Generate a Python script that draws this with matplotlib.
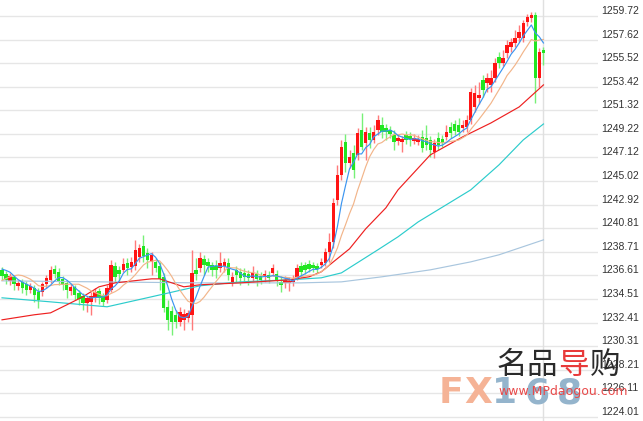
import numpy as np
import pandas as pd
import matplotlib
matplotlib.use("Agg")
import matplotlib.pyplot as plt

# candle data (oldest -> newest)
opens = [1237.11, 1236.75, 1236.13, 1236.49, 1235.69, 1236.04, 1235.86, 1235.33, 1235.51, 1235.15,
         1235.15, 1235.86, 1236.22, 1237.20, 1236.93, 1236.31, 1235.95, 1235.24, 1235.60, 1235.06,
         1234.80, 1234.17, 1234.26, 1234.62, 1235.24, 1234.80, 1234.44, 1235.33, 1237.47, 1237.11,
         1237.11, 1237.73, 1237.38, 1237.47, 1238.27, 1239.25, 1238.62, 1237.82, 1237.82, 1237.47,
         1236.49, 1233.82, 1233.46, 1233.11, 1232.48, 1232.66, 1232.84, 1233.11, 1237.11, 1237.29,
         1238.09, 1237.82, 1237.56, 1237.47, 1237.29, 1237.47, 1237.73, 1236.04, 1237.11, 1236.93,
         1236.84, 1236.75, 1236.40, 1236.75, 1236.58, 1236.58, 1236.67, 1236.84, 1236.75, 1236.04,
         1235.95, 1235.95, 1236.04, 1236.49, 1237.47, 1237.56, 1237.64, 1237.56, 1237.47, 1237.56,
         1237.73, 1238.71, 1239.60, 1243.34, 1245.57, 1248.50, 1246.63, 1247.52, 1247.35, 1249.57,
         1248.41, 1249.30, 1248.68, 1249.57, 1250.02, 1249.75, 1249.57, 1249.13, 1248.59, 1248.50,
         1249.13, 1249.04, 1248.59, 1248.50, 1248.95, 1248.86, 1248.68, 1247.61, 1248.86, 1248.77,
         1248.95, 1249.84, 1250.10, 1250.02, 1249.75, 1249.84, 1250.46, 1251.62, 1252.42, 1254.02,
         1253.75, 1253.58, 1254.20, 1256.07, 1255.53, 1256.42, 1256.96, 1257.31, 1257.76, 1257.76,
         1259.18, 1259.54, 1259.81, 1254.20, 1256.69]
closes = [1236.58, 1236.22, 1236.58, 1235.86, 1235.95, 1235.51, 1235.33, 1235.69, 1234.89, 1234.44,
          1235.86, 1236.40, 1237.11, 1236.75, 1236.04, 1235.78, 1235.33, 1235.60, 1234.89, 1234.53,
          1234.17, 1234.62, 1234.80, 1235.15, 1234.62, 1234.26, 1235.51, 1237.56, 1236.49, 1236.75,
          1237.64, 1237.29, 1237.82, 1238.89, 1239.07, 1238.36, 1238.00, 1238.45, 1237.29, 1236.31,
          1233.73, 1232.66, 1232.48, 1232.48, 1233.37, 1233.19, 1233.28, 1236.84, 1236.75, 1238.18,
          1237.56, 1237.47, 1237.11, 1237.11, 1237.73, 1237.82, 1236.67, 1236.49, 1236.67, 1236.40,
          1236.49, 1236.40, 1236.93, 1236.31, 1236.22, 1236.75, 1236.40, 1237.29, 1236.13, 1235.78,
          1236.22, 1236.13, 1236.31, 1237.29, 1236.93, 1237.11, 1237.20, 1237.29, 1237.20, 1237.82,
          1238.71, 1239.60, 1243.07, 1245.57, 1248.06, 1246.63, 1247.17, 1246.01, 1249.30, 1248.06,
          1249.39, 1248.68, 1249.39, 1250.46, 1249.39, 1249.39, 1249.21, 1248.50, 1248.86, 1248.77,
          1248.68, 1248.77, 1248.86, 1248.77, 1247.97, 1248.24, 1247.79, 1248.41, 1248.24, 1248.41,
          1249.39, 1249.30, 1249.48, 1249.39, 1250.02, 1250.46, 1252.95, 1252.86, 1252.69, 1253.13,
          1254.20, 1254.20, 1255.53, 1255.53, 1255.98, 1257.14, 1257.40, 1257.76, 1258.29, 1259.09,
          1259.63, 1259.81, 1254.20, 1256.51, 1256.42]
highs = [1237.38, 1237.02, 1236.84, 1236.67, 1236.22, 1236.31, 1236.13, 1235.95, 1235.78, 1235.51,
         1236.04, 1236.67, 1237.47, 1237.56, 1237.29, 1236.58, 1236.22, 1235.86, 1235.78, 1235.33,
         1235.06, 1234.80, 1235.15, 1235.51, 1235.51, 1235.06, 1235.78, 1238.00, 1237.82, 1237.47,
         1238.18, 1238.18, 1238.27, 1239.78, 1239.42, 1240.23, 1239.07, 1238.71, 1238.18, 1237.82,
         1236.84, 1234.44, 1233.91, 1233.55, 1233.82, 1233.64, 1233.55, 1238.89, 1238.18, 1238.71,
         1238.45, 1238.18, 1237.82, 1238.00, 1238.71, 1238.18, 1238.18, 1236.93, 1237.47, 1237.29,
         1237.29, 1237.11, 1237.47, 1237.11, 1236.93, 1237.11, 1237.02, 1237.64, 1237.11, 1236.58,
         1236.58, 1236.49, 1236.67, 1237.64, 1237.82, 1237.82, 1238.00, 1237.82, 1237.73, 1238.18,
         1239.07, 1240.40, 1243.52, 1246.46, 1248.68, 1249.21, 1247.79, 1248.24, 1249.75, 1251.08,
         1249.84, 1249.84, 1250.02, 1250.91, 1250.73, 1250.10, 1249.93, 1249.57, 1249.21, 1249.04,
         1249.48, 1249.39, 1249.21, 1249.13, 1249.57, 1250.02, 1249.04, 1248.77, 1249.39, 1249.13,
         1250.02, 1250.28, 1250.46, 1250.64, 1250.46, 1250.91, 1253.31, 1253.58, 1253.84, 1254.47,
         1254.64, 1254.91, 1255.98, 1256.51, 1256.69, 1257.58, 1257.76, 1258.47, 1258.92, 1259.36,
         1259.89, 1260.07, 1260.07, 1256.87, 1256.96]
lows = [1236.22, 1235.86, 1235.78, 1235.33, 1235.33, 1235.06, 1234.89, 1235.06, 1234.26, 1233.73,
        1234.80, 1235.51, 1235.95, 1236.40, 1235.78, 1235.33, 1234.62, 1234.89, 1234.44, 1233.99,
        1233.55, 1233.37, 1233.11, 1234.26, 1234.08, 1233.91, 1234.17, 1235.15, 1236.04, 1236.04,
        1236.93, 1236.67, 1236.93, 1237.11, 1237.82, 1237.82, 1237.29, 1236.67, 1236.93, 1235.33,
        1233.37, 1231.77, 1231.33, 1231.95, 1232.13, 1231.77, 1232.48, 1231.77, 1236.22, 1236.93,
        1236.67, 1236.93, 1236.58, 1236.40, 1236.93, 1236.93, 1236.22, 1235.69, 1236.04, 1235.78,
        1236.04, 1235.78, 1236.04, 1235.69, 1235.86, 1236.04, 1235.95, 1236.58, 1235.69, 1235.15,
        1235.51, 1235.24, 1235.69, 1236.22, 1236.49, 1236.75, 1236.93, 1236.93, 1236.84, 1237.29,
        1237.47, 1237.82, 1239.07, 1242.90, 1245.12, 1245.83, 1246.19, 1245.30, 1246.90, 1247.79,
        1246.90, 1247.97, 1248.41, 1249.13, 1248.86, 1248.68, 1248.86, 1247.79, 1248.24, 1247.61,
        1248.32, 1248.15, 1248.32, 1248.24, 1247.61, 1247.79, 1247.17, 1247.08, 1247.79, 1248.06,
        1248.68, 1248.86, 1249.13, 1249.04, 1249.39, 1249.39, 1250.10, 1251.17, 1251.88, 1252.51,
        1252.95, 1252.95, 1253.84, 1255.09, 1255.27, 1255.98, 1256.51, 1256.96, 1257.40, 1257.40,
        1258.83, 1259.18, 1251.97, 1253.40, 1255.36]

# closes before the visible window (needed for the short moving averages)
hist_closes = [1234.6, 1234.9, 1235.0, 1235.3, 1236.0, 1236.8, 1237.4, 1237.6, 1237.5]

# long moving averages (candle index, value)
ma_red_idx = [0, 8, 12, 16, 20, 24, 28, 37, 39, 45, 49, 59, 71, 76, 79, 82, 86, 90, 95, 98, 106, 114, 121, 128, 134]
ma_red_val = [1232.66, 1233.11, 1233.28, 1233.99, 1234.71, 1235.60, 1235.95, 1236.31, 1236.31, 1235.60,
              1235.78, 1235.95, 1236.22, 1236.49, 1236.93, 1237.82, 1238.98, 1240.76, 1242.63, 1244.23,
              1247.35, 1248.95, 1250.19, 1251.62, 1253.58]
ma_cyan_idx = [0, 12, 26, 37, 49, 59, 71, 79, 84, 93, 98, 103, 116, 123, 129, 134]
ma_cyan_val = [1234.62, 1234.26, 1233.82, 1234.71, 1235.69, 1236.04, 1236.22, 1236.40, 1236.84, 1238.89,
               1240.05, 1241.38, 1244.23, 1246.46, 1248.68, 1250.10]
ma_lb_idx = [0, 24, 49, 74, 84, 94, 106, 116, 123, 134]
ma_lb_val = [1236.13, 1236.04, 1235.95, 1235.95, 1236.04, 1236.49, 1237.11, 1237.82, 1238.45, 1239.78]

tick_labels = ["1224.01", "1226.11", "1228.21", "1230.31", "1232.41", "1234.51", "1236.61", "1238.71",
               "1240.81", "1242.92", "1245.02", "1247.12", "1249.22", "1251.32", "1253.42", "1255.52",
               "1257.62", "1259.72"]

o = np.array(opens)
c = np.array(closes)
h = np.array(highs)
l = np.array(lows)
n = len(o)
x = np.arange(n)

s = pd.Series(hist_closes + closes)
ma5 = s.rolling(5).mean().values[len(hist_closes):]
ma10 = s.rolling(10).mean().values[len(hist_closes):]

fig = plt.figure(figsize=(6.43, 4.21), dpi=100)
ax = fig.add_axes([0, 0, 598 / 643, 1])
ax.set_xlim(-0.5, 147.5)
ax.set_ylim(1223.65, 1261.14)

ax.set_yticks(np.linspace(1224.01, 1259.72, len(tick_labels)))
ax.set_yticklabels(tick_labels)
ax.yaxis.tick_right()
ax.tick_params(axis="y", length=0, pad=2.2, labelsize=7.5, labelcolor="#333333")
for lab in ax.get_yticklabels():
    lab.set_va("bottom")
    lab.set_fontfamily("Liberation Sans")
ax.set_xticks([])
for sp in ax.spines.values():
    sp.set_visible(False)
ax.grid(axis="y", color="#e6e6e6", lw=1)
ax.set_axisbelow(True)
ax.axvline(n - 1, color="#e0e0e0", lw=1, zorder=1)

up = c >= o
body_col = np.where(up, "#ff1414", "#22e622")
wick_col = np.where(up, "#ff7a7a", "#77f077")
ax.vlines(x, l, h, colors=wick_col, lw=1, zorder=2)
ax.bar(x, np.abs(c - o), bottom=np.minimum(o, c), width=0.85, color=body_col, lw=0, zorder=3)

ax.plot(ma_lb_idx, ma_lb_val, color="#a9c6de", lw=0.85, zorder=4)
ax.plot(ma_cyan_idx, ma_cyan_val, color="#2ccccc", lw=0.85, zorder=4)
ax.plot(ma_red_idx, ma_red_val, color="#ee2020", lw=0.85, zorder=4)
ax.plot(x, ma10, color="#f2b58a", lw=0.85, zorder=5)
ax.plot(x, ma5, color="#3b95f0", lw=0.85, zorder=6)

# watermark
W, H = 643, 421
for ch, px, col in zip("FX168", [451, 478, 505, 537, 569], ["#f5b396"] * 2 + ["#94b4cc"] * 3):
    fig.text(px / W, 1 - 393 / H, ch, color=col, fontsize=26, fontweight="bold",
             family="DejaVu Sans", ha="center", va="center")
for ch, px, col in zip("名品导购", [512, 542, 573, 605], ["#2a2a2a", "#2a2a2a", "#e83a3a", "#2a2a2a"]):
    fig.text(px / W, 1 - 365 / H, ch, color=col, fontsize=22, family="Noto Sans CJK SC",
             fontweight="medium", ha="center", va="center")
fig.text(498 / W, 1 - 392 / H, "www.MPdaogou.com", color="#e84a4a", fontsize=9,
         family="DejaVu Sans", ha="left", va="center")

fig.savefig("out.png", dpi=100, facecolor="white")
